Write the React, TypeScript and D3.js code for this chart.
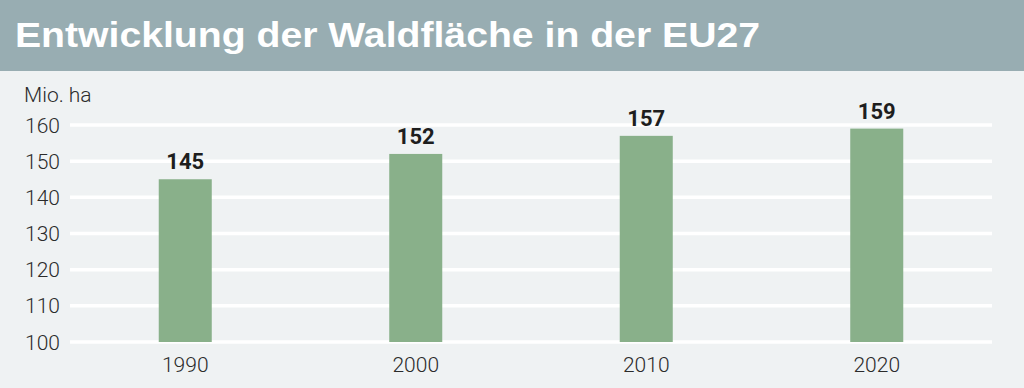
import * as d3 from 'd3';
import { useEffect, useRef } from 'react';

const width = 1024;
const height = 388;
const margin = { top: 125, left: 70, bottom: 46, right: 32 };

const years = ['1990', '2000', '2010', '2020'];
const forestArea = [145, 152, 157, 159];
const yTicks = [100, 110, 120, 130, 140, 150, 160];

const title = 'Entwicklung der Waldfläche in der EU27';
const unitLabel = 'Mio. ha';

function App() {
  const wrapperRef = useRef<HTMLDivElement>(null);

  useEffect(() => {
    document.body.style.margin = '0';
    const wrapper = d3.select(wrapperRef.current);

    const svg = wrapper
      .append('svg')
      .attr('width', width)
      .attr('height', height)
      .style('display', 'block')
      .style('font-family', 'Roboto, "Liberation Sans", sans-serif');

    svg.append('rect').attr('width', width).attr('height', height).attr('fill', '#eff2f3');

    // title bar
    svg.append('rect').attr('width', width).attr('height', 71).attr('fill', '#98adb2');
    svg
      .append('text')
      .attr('x', 15)
      .attr('y', 47)
      .attr('fill', '#ffffff')
      .attr('font-family', '"Liberation Sans", Arial, sans-serif')
      .attr('font-size', 35)
      .attr('font-weight', 700)
      .attr('textLength', 745)
      .attr('lengthAdjust', 'spacingAndGlyphs')
      .text(title);

    const data = years.map((year, i) => ({ year, value: forestArea[i] }));

    const xScale = d3
      .scaleBand()
      .domain(years)
      .range([margin.left, width - margin.right])
      .paddingInner(0.77)
      .paddingOuter(0.385);

    const yScale = d3
      .scaleLinear()
      .domain([100, 160])
      .range([height - margin.bottom, margin.top]);

    // grid + y labels
    const yAxis = svg.append('g');
    yAxis
      .selectAll('line')
      .data(yTicks)
      .join('line')
      .attr('x1', margin.left)
      .attr('x2', width - margin.right)
      .attr('y1', (d) => yScale(d))
      .attr('y2', (d) => yScale(d))
      .attr('stroke', '#ffffff')
      .attr('stroke-width', 3.5);
    yAxis
      .selectAll('text')
      .data(yTicks)
      .join('text')
      .attr('x', 60)
      .attr('y', (d) => yScale(d))
      .attr('dy', '0.36em')
      .attr('text-anchor', 'end')
      .attr('font-size', 21)
      .attr('font-weight', 300)
      .attr('fill', '#2b2b2b')
      .text((d) => d);

    svg
      .append('text')
      .attr('x', 24)
      .attr('y', 102)
      .attr('font-size', 21)
      .attr('font-weight', 300)
      .attr('fill', '#2b2b2b')
      .text(unitLabel);

    // bars
    svg
      .append('g')
      .selectAll('rect')
      .data(data)
      .join('rect')
      .attr('x', (d) => xScale(d.year) || 0)
      .attr('y', (d) => yScale(d.value))
      .attr('width', xScale.bandwidth())
      .attr('height', (d) => yScale(100) - yScale(d.value))
      .attr('fill', '#89b08a');

    // value labels
    svg
      .append('g')
      .selectAll('text')
      .data(data)
      .join('text')
      .attr('x', (d) => (xScale(d.year) || 0) + xScale.bandwidth() / 2)
      .attr('y', (d) => yScale(d.value) - 10)
      .attr('text-anchor', 'middle')
      .attr('font-size', 22)
      .attr('font-weight', 700)
      .attr('fill', '#1e1e1e')
      .text((d) => d.value);

    // x labels
    svg
      .append('g')
      .selectAll('text')
      .data(years)
      .join('text')
      .attr('x', (d) => (xScale(d) || 0) + xScale.bandwidth() / 2)
      .attr('y', 372)
      .attr('text-anchor', 'middle')
      .attr('font-size', 21)
      .attr('font-weight', 300)
      .attr('fill', '#2b2b2b')
      .text((d) => d);

    return () => {
      wrapper.select('svg').remove();
    };
  }, []);

  return <div ref={wrapperRef}></div>;
}

export default App;
